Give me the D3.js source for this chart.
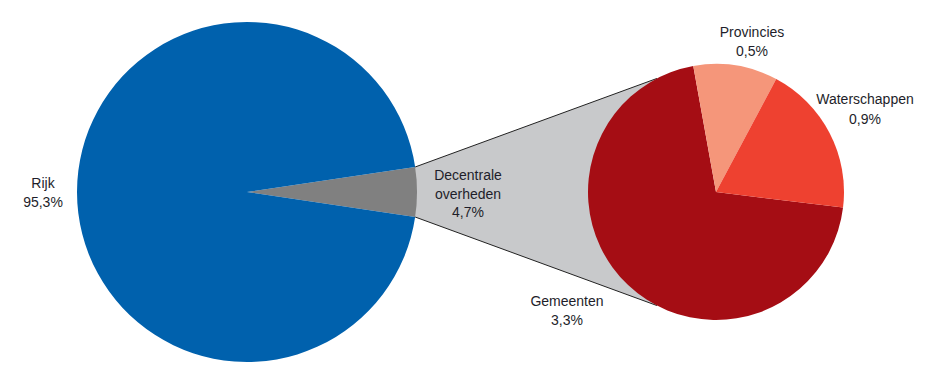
<!DOCTYPE html>
<html><head><meta charset="utf-8">
<script src="https://cdn.jsdelivr.net/npm/d3@7"></script>
<style>html,body{margin:0;padding:0;background:#fff;}svg{display:block;}</style>
</head><body>
<svg id="c" width="940" height="380"></svg>
<script>
// Data
const mainLabels = ["Decentrale overheden", "Rijk"];
const mainValues = [4.7, 95.3];
const subLabels = ["Gemeenten", "Provincies", "Waterschappen"];
const subValues = [3.3, 0.5, 0.9];

const mainColors = ["#808080", "#0061ad"];
const subColors = ["#a50d14", "#f5967a", "#ee4130"];

const svg = d3.select("#c");
const deg = Math.PI / 180;

// Layout
const L = {cx: 247, cy: 192, r: 170};
const R = {cx: 716, cy: 192, r: 128};

const mainTotal = d3.sum(mainValues);
const half = mainValues[0] / mainTotal * Math.PI; // half angle of decentral wedge
const mainPie = d3.pie().sort(null).startAngle(Math.PI / 2 - half).endAngle(Math.PI / 2 - half + 2 * Math.PI);
const subPie = d3.pie().sort(null).startAngle(97 * deg).endAngle(97 * deg + 2 * Math.PI);

// connector geometry
const p1 = [L.cx + L.r * Math.cos(-half), L.cy + L.r * Math.sin(-half)];
const p2 = [L.cx + L.r * Math.cos(half), L.cy + L.r * Math.sin(half)];
const ang = 62.5 * deg;
const t1 = [R.cx - R.r * Math.cos(ang), R.cy - R.r * Math.sin(ang)];
const t2 = [R.cx - R.r * Math.cos(ang), R.cy + R.r * Math.sin(ang)];

svg.append("polygon")
  .attr("points", [p1, t1, [R.cx, R.cy], t2, p2].map(d => d.join(",")).join(" "))
  .attr("fill", "#c8c9cb");
svg.append("line").attr("x1", p1[0]).attr("y1", p1[1]).attr("x2", t1[0]).attr("y2", t1[1])
  .attr("stroke", "#222").attr("stroke-width", 1);
svg.append("line").attr("x1", p2[0]).attr("y1", p2[1]).attr("x2", t2[0]).attr("y2", t2[1])
  .attr("stroke", "#222").attr("stroke-width", 1);

const arcL = d3.arc().innerRadius(0).outerRadius(L.r);
const arcR = d3.arc().innerRadius(0).outerRadius(R.r);

svg.append("g").attr("transform", `translate(${L.cx},${L.cy})`)
  .selectAll("path").data(mainPie(mainValues)).join("path")
  .attr("d", arcL).attr("fill", (d, i) => mainColors[i]);

svg.append("g").attr("transform", `translate(${R.cx},${R.cy})`)
  .selectAll("path").data(subPie(subValues)).join("path")
  .attr("d", arcR).attr("fill", (d, i) => subColors[i]);

const fmt = v => v.toFixed(1).replace(".", ",") + "%";

// label layout: [x, first baseline, line gap]
const labels = [
  {lines: ["Rijk", fmt(mainValues[1])], x: 43, y: 188, gap: 19},
  {lines: ["Decentrale", "overheden", fmt(mainValues[0])], x: 468, y: 180, gap: 18.5},
  {lines: [subLabels[1], fmt(subValues[1])], x: 752, y: 37, gap: 18.5},
  {lines: [subLabels[2], fmt(subValues[2])], x: 865, y: 104, gap: 19.5},
  {lines: [subLabels[0], fmt(subValues[0])], x: 567, y: 306, gap: 19}
];
const tg = svg.append("g").attr("font-family", "Liberation Sans, Arial, sans-serif")
  .attr("font-size", 14).attr("fill", "#1e1e2a").attr("text-anchor", "middle");
labels.forEach(l => {
  const t = tg.append("text").attr("x", l.x).attr("y", l.y);
  l.lines.forEach((s, i) => t.append("tspan").attr("x", l.x).attr("y", l.y + i * l.gap).text(s));
});
</script>
</body></html>
